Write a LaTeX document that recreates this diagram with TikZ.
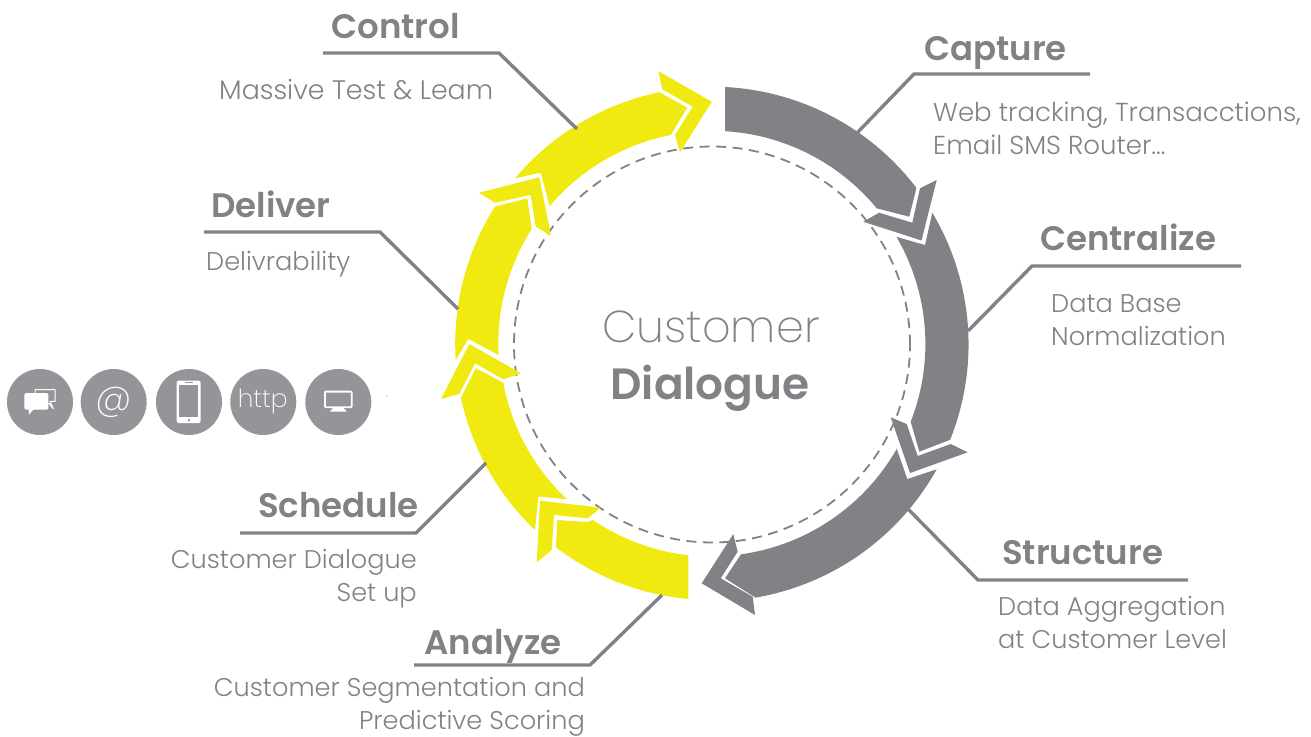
\documentclass[tikz,border=0pt]{standalone}
\usepackage{fontspec}
\setmainfont{Poppins}[UprightFont=* Light,BoldFont=* SemiBold]
\newfontfamily\thinfont{Poppins ExtraLight}
\definecolor{ringgray}{HTML}{808285}
\definecolor{icongray}{HTML}{939598}
\definecolor{ringyellow}{HTML}{F0EA10}
\definecolor{textgray}{HTML}{808285}
\tikzset{
  leader/.style={draw=ringgray,line width=3.4pt,line join=miter},
  head/.style={font=\fontsize{34}{34}\selectfont\bfseries,text=textgray,inner sep=0pt,anchor=base west},
  sub/.style={font=\fontsize{25.6}{33}\selectfont,text=textgray,inner sep=0pt},
  icon/.style={circle,fill=icongray,minimum size=66pt,inner sep=0pt},
}
\begin{document}
\begin{tikzpicture}[x=1pt,y=-1pt]
\useasboundingbox (0,0) rectangle (1311,736);
% dashed circle
\draw[ringgray,line width=1.8pt,dash pattern=on 10pt off 6.5pt] (712,344.5) circle[radius=198pt];
% gray
\fill[ringgray] (725,87) arc[start angle=87.1,end angle=37.3,radius=257pt] -- (909.3,216.7) -- (876.7,208.3) arc[start angle=39.5,end angle=86.5,radius=213pt] -- (725,131) -- cycle;
\fill[ringgray] (936.7,180) -- (920,188.3) -- (912.3,222.7) -- (879,212.7) -- (863.3,221.7) -- (921.5,240.5) -- cycle;
\fill[ringgray] (932.3,212.7) arc[start angle=30.8,end angle=-21.8,radius=257pt] -- (919.3,451.7) -- (910.7,421.7) arc[start angle=-21.4,end angle=30.2,radius=213pt] -- (925,245) -- cycle;
\fill[ringgray] (890.7,417.3) -- (906.7,424) -- (917.7,456) -- (950.7,444) -- (967.7,452.3) -- (910,473) -- cycle;
\fill[ringgray] (936.7,469.3) arc[start angle=-29.1,end angle=-80.3,radius=257pt] -- (725,578.3) -- (741,554.3) arc[start angle=-82.1,end angle=-29.7,radius=213pt] -- (907.3,479) -- cycle;
\fill[ringgray] (733.3,534) -- (737.7,551.7) -- (720.7,578.3) -- (752.7,596.7) -- (755,615) -- (701.7,583.3) -- cycle;
% yellow
\fill[ringyellow] (688.3,599) arc[start angle=-95.3,end angle=-127.4,radius=257pt] -- (557.3,520) -- (587.3,522) -- (593,520) arc[start angle=-124.1,end angle=-96.4,radius=213pt] -- (688.3,555) -- cycle;
\fill[ringyellow] (600.7,507.7) -- (540,500.7) -- (536.7,562.3) -- (551.7,550) -- (554,515) -- (587.7,518.3) -- cycle;
\fill[ringyellow] (535,530) arc[start angle=-133.6,end angle=-167.9,radius=257pt] -- (475.7,368.3) -- (503.3,382.7) arc[start angle=-169.5,end angle=-133.2,radius=213pt] -- (538.3,496.7) -- cycle;
\fill[ringyellow] (441,399) -- (459.3,394) -- (475,363.3) -- (503.3,379.3) -- (521,373.3) -- (469.3,344) -- cycle;
\fill[ringyellow] (455.7,360) arc[start angle=183.6,end angle=147.7,radius=257pt] -- (527.3,198.3) -- (531.7,229) arc[start angle=147.5,end angle=183.1,radius=213pt] -- (468.3,339) -- cycle;
\fill[ringyellow] (479,192.7) -- (539.3,177.3) -- (551,235.7) -- (535.7,226.7) -- (530.7,195) -- (495,202.7) -- cycle;
\fill[ringyellow] (515,178.3) arc[start angle=139.9,end angle=101.7,radius=257pt] -- (687.3,107.7) -- (670.7,135) arc[start angle=101.2,end angle=139.7,radius=213pt] -- (540.7,172.7) -- cycle;
\fill[ringyellow] (658.3,71) -- (662.3,89.3) -- (692.7,106.7) -- (675,135) -- (680,152.3) -- (711.7,101.7) -- cycle;
% centre
\node[font=\thinfont\fontsize{44.6}{46}\selectfont,text=textgray,inner sep=0pt,anchor=base] (ctitle) at (711,342) {Customer};
\node[font=\fontsize{43.8}{46}\selectfont\bfseries,text=textgray,inner sep=0pt,anchor=base] (dtitle) at (710,399) {Dialogue};
% headings
\node[head] (control) at (331,38) {Control};
\node[head] (capture) at (924,60) {Capture};
\node[head] (centralize) at (1040,250) {Centralize};
\node[head] (structure) at (1002,564) {Structure};
\node[head] (analyze) at (424,654) {Analyze};
\node[head] (schedule) at (258,517) {Schedule};
\node[head] (deliver) at (211,217) {Deliver};
% subs
\node[sub,anchor=west,font=\fontsize{26.8}{33}\selectfont] (controls) at (219,90) {Massive Test \& Leam};
\node[sub,anchor=west,align=left,font=\fontsize{26}{33}\selectfont] (captures) at (933,128) {Web tracking, Transacctions,\\Email SMS Router...};
\node[sub,anchor=west,align=left] (centralizes) at (1051,320.5) {Data Base\\Normalization};
\node[sub,anchor=west,align=left] (structures) at (998,622.5) {Data Aggregation\\at Customer Level};
\node[sub,anchor=east,align=right] (analyzes) at (585,706.5) {Customer Segmentation and\\Predictive Scoring};
\node[sub,anchor=east,align=right] (schedules) at (417,578.5) {Customer Dialogue\\Set up};
\node[sub,anchor=west] (delivers) at (206,264) {Delivrability};
% leaders
\draw[leader] (323,53) -- (499,53) -- (577,129);
\draw[leader] (1090,74) -- (914,74) -- (857,133);
\draw[leader] (1241,266) -- (1032,266) -- (968,331);
\draw[leader] (1188,580) -- (978,580) -- (908,509);
\draw[leader] (414,665) -- (590,665) -- (662,595);
\draw[leader] (240,533) -- (416,533) -- (486,463);
\draw[leader] (204,232) -- (380,232) -- (458,309);
% icons
\node[icon] (i1) at (40,402) {};
\node[icon] (i2) at (113.7,402) {};
\node[icon] (i3) at (189,402) {};
\node[icon] (i4) at (263.3,402) {};
\node[icon] (i5) at (338.3,402) {};
% chat
\fill[white,rounded corners=1.5pt] (24.3,393) rectangle (48.3,409.7);
\fill[white] (28.5,408) -- (29,414.7) -- (34,409) -- cycle;
\draw[white,line width=1pt,line join=round] (35,393) -- (35,389.7) -- (55,389.7) -- (55,401.3) -- (50,401.3) -- (53.3,408.7) -- (48.5,403);
% at
\node[text=white,font=\thinfont\fontsize{37}{37}\selectfont,inner sep=0pt] (atsign) at (114,402) {@};
% phone
\fill[white,rounded corners=2pt] (176.7,380.7) rectangle (200.7,423);
\fill[icongray] (179,384.7) rectangle (198.3,417.3);
\fill[icongray] (185,382) rectangle (193,383);
\fill[icongray] (189,420.2) circle[radius=1.3pt];
% http
\node[text=white,font=\thinfont\fontsize{25}{25}\selectfont,inner sep=0pt] (httptext) at (262.7,401.5) {http};
% monitor
\draw[white,line width=1.8pt,rounded corners=1pt] (324.9,391.6) rectangle (351.8,407.2);
\fill[white] (333,408) -- (343.5,408) -- (346.7,411.5) -- (330,411.5) -- cycle;
\fill[icongray!80] (386.7,396) circle[radius=0.6pt];
\end{tikzpicture}
\end{document}
